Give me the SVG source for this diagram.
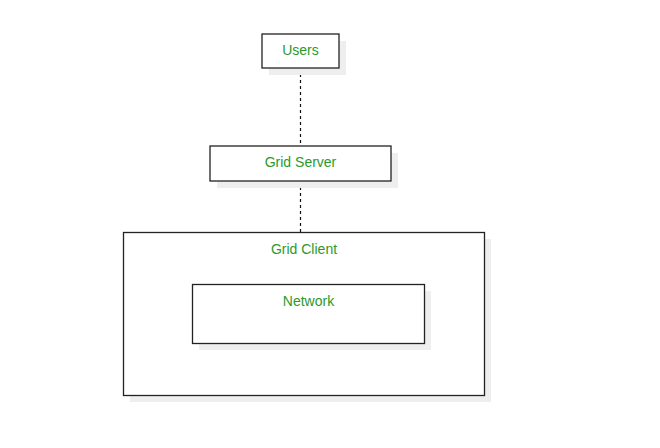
<svg xmlns="http://www.w3.org/2000/svg" width="660" height="448" viewBox="0 0 660 448">
<style>
.box{fill:#fff;stroke:#222;stroke-width:1.3}
.sh{fill:#eeeeee}
.t{font-family:"Liberation Sans",Arial,sans-serif;font-size:14px;fill:#2b9a2b;text-anchor:middle}
.c{stroke:#111;stroke-width:1.2;stroke-dasharray:3,3;fill:none}
</style>
<rect width="660" height="448" fill="#fff"/>
<g id="connectors">
<line class="c" x1="300.5" y1="68" x2="300.5" y2="146"/>
<line class="c" x1="300.5" y1="181" x2="300.5" y2="232"/>
</g>
<g id="users">
<rect class="sh" x="269" y="41" width="77" height="34"/>
<rect class="box" x="262" y="34" width="77" height="34"/>
<text class="t" x="300.5" y="55">Users</text>
</g>
<g id="grid-server">
<rect class="sh" x="217" y="153" width="181" height="35"/>
<rect class="box" x="210" y="146" width="181" height="35"/>
<text class="t" x="300.5" y="167">Grid Server</text>
</g>
<g id="grid-client">
<rect class="sh" x="130" y="239" width="361" height="163"/>
<rect class="box" x="123.5" y="232.5" width="361" height="163"/>
<text class="t" x="304" y="254">Grid Client</text>
</g>
<g id="network">
<rect class="sh" x="199" y="291" width="232" height="59"/>
<rect class="box" x="192.5" y="284.5" width="232" height="59"/>
<text class="t" x="308.5" y="306">Network</text>
</g>
</svg>
